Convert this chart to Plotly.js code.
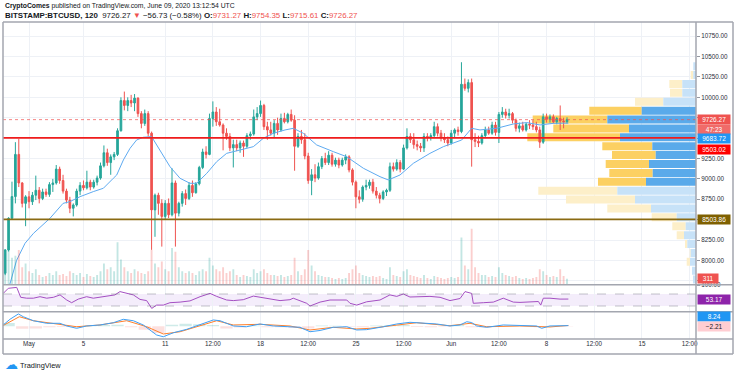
<!DOCTYPE html>
<html><head><meta charset="utf-8">
<script src="https://cdn.plot.ly/plotly-3.0.1.min.js"></script>
<style>html,body{margin:0;padding:0;background:#fff}#chart{width:736px;height:375px}</style>
</head><body><div id="chart"></div>
<script>
// ---------- DATA ----------
// 6h candles, days counted from 2020-05-01 00:00 UTC
const candleStartDay = -1.75, candleStepDay = 0.25;
const firstOpen = 7843;
const closes = [
8129,8517,8783,9300,8950,8700,8780,8720,8800,8860,
8760,8840,8810,8930,8950,9120,8980,8850,8740,8640,
8680,8850,8920,8890,8960,8900,8960,9010,9160,9320,
9200,9270,9300,9590,9960,9900,9960,9930,9990,9800,
9680,9800,9560,8620,8800,8700,8540,8700,8560,8950,
8580,8700,8820,8760,8920,8830,8940,9140,9330,9300,
9740,9820,9700,9660,9560,9520,9380,9420,9380,9440,
9400,9530,9550,9760,9800,9900,9640,9600,9560,9680,
9600,9740,9700,9790,9720,9400,9520,9480,9280,8980,
9050,9010,9150,9250,9200,9290,9180,9230,9170,9230,
9270,9110,8960,8780,8750,8900,8920,8960,8850,8800,
8760,8840,8860,9150,9120,9200,9120,9380,9520,9480,
9420,9400,9380,9520,9510,9530,9640,9560,9500,9480,
9440,9560,9600,9580,10160,10110,10180,9480,9460,9440,
9530,9600,9560,9660,9570,9790,9820,9780,9800,9720,
9620,9650,9600,9670,9660,9640,9600,9450,9760,9730,
9760,9700,9740,9710,9700,9726.27];
const highs = [
8140,8530,8966,9450,9490,8960,8800,8850,8840,9040,
8900,8880,8880,8960,9000,9170,9150,9050,8880,8780,
8700,8880,8960,8980,9100,8990,8990,9040,9200,9410,
9370,9300,9330,9620,10000,10070,10000,10030,10040,10000,
9830,9850,9830,9580,8820,8830,8750,8740,8760,9130,
8980,8720,8850,8870,8960,8980,8960,9160,9370,9400,
9800,9950,9880,9860,9680,9620,9560,9480,9480,9470,
9470,9560,9580,9850,9880,9960,9920,9700,9700,9720,
9750,9800,9810,9810,9850,9780,9560,9600,9560,9320,
9120,9180,9200,9280,9320,9340,9320,9260,9260,9260,
9300,9290,9130,8980,8860,8920,8990,8990,9000,8900,
8830,8860,8880,9200,9200,9240,9230,9420,9620,9560,
9560,9470,9440,9560,9560,9560,9700,9680,9600,9560,
9520,9600,9620,9640,10430,10230,10220,10230,9560,9530,
9560,9640,9640,9700,9700,9820,9880,9860,9860,9820,
9740,9690,9700,9690,9720,9720,9700,9640,9800,9800,
9790,9790,9760,9900,9750,9754.35];
const lows = [
7820,8110,8500,8700,8900,8650,8420,8640,8680,8740,
8700,8740,8780,8780,8840,8930,8940,8820,8700,8580,
8540,8660,8800,8860,8870,8860,8880,8920,8990,9140,
9160,9050,9230,9280,9580,9840,9830,9880,9830,9760,
9620,9650,9520,8130,8290,8560,8170,8500,8520,8540,
8170,8540,8660,8680,8740,8780,8820,8920,9120,9250,
9290,9640,9650,9640,9350,9480,9340,9140,9340,9320,
9270,9380,9480,9530,9720,9760,9600,9480,9530,9500,
9540,9580,9680,9680,9700,9100,9380,9430,9240,8940,
8800,8960,8990,9120,9170,9170,9150,9150,9130,9150,
9180,9080,8920,8640,8700,8720,8860,8880,8820,8760,
8700,8740,8790,8840,9090,9100,9080,9110,9360,9440,
9370,9350,9330,9330,9460,9470,9500,9520,9460,9440,
9400,9420,9500,9530,9560,10080,10060,9150,9390,9390,
9420,9500,9540,9540,9530,9440,9750,9740,9740,9680,
9580,9570,9580,9580,9610,9600,9570,9380,9430,9690,
9690,9680,9670,9600,9620,9680];
const volumes = [
1600,2000,1400,1500,1800,900,1100,700,600,800,
500,400,450,600,500,700,500,550,450,700,
600,500,600,400,550,450,400,500,700,1100,
800,900,700,2200,1300,900,700,600,800,700,
600,550,700,1800,1100,900,1200,800,700,1900,
1700,900,700,600,700,600,500,700,800,700,
1400,1000,800,700,900,600,700,800,500,400,
500,450,400,800,600,700,800,600,500,500,
450,500,400,450,500,1400,700,500,800,1800,
1000,700,500,450,400,400,350,300,350,300,
350,600,800,1000,600,500,450,400,450,400,
450,350,300,900,500,450,400,700,800,500,
450,400,350,500,350,300,450,400,350,300,
350,400,350,400,2450,1000,800,2900,900,600,
500,500,400,450,400,900,600,500,450,400,
450,350,300,350,300,350,400,800,700,500,
400,450,400,800,450,311];

// moving average
const maDay = [-1.42,-0.92,-0.29,0.33,1.54,2.5,3.0,3.75,4.72,5.46,6.19,6.44,6.93,7.42,7.9,8.39,9.0,9.62,10.35,11.09,11.82,12.31,13.05,13.78,14.51,15.49,16.47,17.2,17.94,18.8,19.41,20.14,21.12,22.34,23.32,24.55,25.77,26.38,27.24,28.22,29.07,29.44,30.42,31.77,32.5,33.11,34.34,35.07,35.56,36.54,37.52,38.5,39.6];
const maVal = [7700,7998,8211,8333,8517,8700,8721,8782,8844,8885,9007,9048,9232,9375,9477,9510,9518,9354,9150,9007,8946,8946,9068,9211,9313,9354,9395,9497,9559,9600,9620,9559,9416,9334,9272,9130,9027,8987,9048,9191,9272,9313,9395,9477,9620,9600,9620,9648,9673,9690,9661,9681,9683.72];

// RSI
const rsiDay = [-1.89,-1.52,-0.9,-0.71,-0.61,-0.17,0.32,0.81,1.3,1.79,2.28,2.77,3.13,3.62,4.23,4.72,5.21,5.7,6.31,6.68,7.17,7.66,8.15,8.64,9.01,9.37,9.86,10.35,11.09,11.82,12.56,13.29,13.78,14.51,15.0,15.73,16.47,17.2,17.69,18.43,19.16,19.4,20.39,20.63,21.37,22.1,23.33,23.57,24.06,24.79,25.77,26.5,27.0,27.48,27.97,28.71,29.44,30.18,30.91,31.65,32.01,32.5,32.62,33.36,34.09,34.82,35.56,36.05,36.78,37.4,37.57,37.76,38.25,38.99,39.6];
const rsiVal = [72,89,92,72,59,56,56,61,56,59,67,50,41,53,61,56,59,62,67,78,73,67,52,48,22,33,33,41,43,47,61,72,62,50,48,51,63,57,52,48,51,56,39,30,43,50,50,39,33,44,50,67,62,70,60,61,62,59,48,55,78,72,39,41,43,56,43,42,43,45,33,56,56,53,53.17];

// MACD
const macdDay = [-1.89,-1.4,-0.78,-0.42,0.32,1.3,2.28,2.77,3.5,4.23,5.21,6.19,6.92,7.66,8.39,9.01,9.37,9.86,10.6,11.58,12.56,13.53,14.03,15.0,15.98,16.96,17.94,19.16,19.9,20.63,21.37,22.34,23.33,24.06,24.79,26.02,27.0,27.97,28.95,29.93,30.91,31.65,32.14,32.5,32.87,33.6,34.82,36.05,37.27,37.64,38.25,39.6];
const macdVal = [16,84,148,115,67,36,36,4,-24,4,16,43,84,67,16,-65,-104,-125,-77,-36,16,76,67,4,-5,28,4,-5,-12,-65,-50,-12,-5,-44,-40,-5,28,48,40,28,4,16,55,45,4,-12,16,10,4,-24,4,8.24];
const signalDay = [-1.89,-0.71,0.32,1.54,3.5,5.21,7.17,8.64,9.86,11.09,12.56,13.78,15.0,16.96,19.16,20.63,22.34,24.06,25.04,27.0,28.46,30.91,32.38,33.6,36.05,38.25,39.6];
const signalVal = [10,115,67,36,-5,16,67,-5,-92,-65,4,67,16,24,4,-44,-12,-32,-24,16,43,7,36,-5,4,-8,10.45];
const histStartDay = -1.5, histStepDay = 1;
const histVal = [40,-30,-25,-10,-8,-12,10,15,20,-10,-40,-80,20,30,25,15,-25,-15,10,-10,-10,-20,-25,10,8,-5,-10,10,12,15,-8,-10,-5,20,-10,-15,5,3,-3,-10,6,-2.21];

// volume profile (price bins, up / down volume)
const profileBinLow = [7711,7820,7929,8038,8147,8256,8365,8474,8583,8692,8801,8910,9019,9128,9237,9346,9455,9564,9673,9782,9891,10000,10109,10218,10327];
const profileBinSize = 109;
const profileUp   = [3,4,6,5.3,8.7,12,10.3,19.3,45,61,78.7,50,43.3,47,40.3,43.7,76,67,88.7,54.3,32.7,13.7,13.7,2.7,2.7];
const profileDown = [0,0,3.3,1,2.3,7.3,13.4,25,43.7,69,79,48,43.4,43.3,43.7,50,92.7,75.7,74.6,52.4,28.3,12.3,13,2.6,0];
const valueAreaLow = 8910, valueAreaHigh = 9891;

// levels
const redLevel = 9503.02, brownLevel = 8503.86;
const rsiUpper = 70, rsiLower = 30;

// axis ticks (labels hidden behind the price tags are left blank)
const priceTicks = [7750,8000,8250,8500,8750,9000,9250,9500,9750,10000,10250,10500,10750];
const priceTickText = ['','8000.00','8250.00','','8750.00','9000.00','9250.00','','','10000.00','10250.00','10500.00','10750.00'];
const tickDays = [0,4,10,13.5,17,20.5,24,27.5,31,34.5,38,41.5,45,48.5];
const tickText = ['May','5','11','12:00','18','12:00','25','12:00','Jun','12:00','8','12:00','15','12:00'];
const xStartDay = -1.909, xEndDay = 48.971;

// ---------- BUILD ----------
const DAY = 86400000;
const T0 = Date.UTC(2020, 4, 1);
const msToDate = ms => new Date(ms).toISOString().slice(0, 23).replace('T', ' ');
const toDate = d => msToDate(T0 + d * DAY);

const opens = closes.map((c, i) => i === 0 ? firstOpen : closes[i - 1]);
const times = closes.map((_, i) => toDate(candleStartDay + i * candleStepDay));
const endMs = T0 + xEndDay * DAY;
const unitMs = DAY / 13.62;
const binCenters = profileBinLow.map(v => v + profileBinSize / 2);
const inVA = profileBinLow.map(v => v >= valueAreaLow && v < valueAreaHigh);

const FONT = 'Liberation Sans, Arial, sans-serif';
const UP = '#26a69a', DN = '#ef5350';

const traces = [
  { type: 'bar', orientation: 'h', y: binCenters, width: 98,
    x: profileDown.map(v => v * unitMs),
    base: profileDown.map((v, i) => msToDate(endMs - (v + profileUp[i]) * unitMs)),
    marker: { color: inVA.map(f => f ? '#fcd062' : '#fdefc9'), line: { width: 0 } },
    xaxis: 'x', yaxis: 'y', hoverinfo: 'skip' },
  { type: 'bar', orientation: 'h', y: binCenters, width: 98,
    x: profileUp.map(v => v * unitMs),
    base: profileUp.map(v => msToDate(endMs - v * unitMs)),
    marker: { color: inVA.map(f => f ? '#5aaaea' : '#c7e2f8'), line: { width: 0 } },
    xaxis: 'x', yaxis: 'y', hoverinfo: 'skip' },
  { type: 'candlestick', x: times, open: opens, high: highs, low: lows, close: closes,
    increasing: { line: { color: UP, width: 1 }, fillcolor: UP },
    decreasing: { line: { color: DN, width: 1 }, fillcolor: DN },
    whiskerwidth: 0, xaxis: 'x', yaxis: 'y', hoverinfo: 'skip' },
  { type: 'scatter', mode: 'lines', x: maDay.map(toDate), y: maVal,
    line: { color: '#5eaaf0', width: 1 }, xaxis: 'x', yaxis: 'y', hoverinfo: 'skip' },
  { type: 'bar', x: times, y: volumes, width: candleStepDay * DAY * 0.55,
    marker: { color: closes.map((c, i) => c >= opens[i] ? 'rgba(38,166,154,0.28)' : 'rgba(239,83,80,0.28)'), line: { width: 0 } },
    xaxis: 'x', yaxis: 'y4', hoverinfo: 'skip' },
  { type: 'scatter', mode: 'lines', x: rsiDay.map(toDate), y: rsiVal,
    line: { color: '#a44fc2', width: 1 }, xaxis: 'x', yaxis: 'y2', hoverinfo: 'skip' },
  { type: 'bar', x: histVal.map((_, i) => toDate(histStartDay + i * histStepDay)), y: histVal,
    width: histStepDay * DAY * 0.9,
    marker: { color: histVal.map(v => v >= 0 ? 'rgba(38,166,154,0.22)' : 'rgba(239,83,80,0.18)'), line: { width: 0 } },
    xaxis: 'x', yaxis: 'y3', hoverinfo: 'skip' },
  { type: 'scatter', mode: 'lines', x: signalDay.map(toDate), y: signalVal,
    line: { color: '#ff7f2a', width: 1 }, xaxis: 'x', yaxis: 'y3', hoverinfo: 'skip' },
  { type: 'scatter', mode: 'lines', x: macdDay.map(toDate), y: macdVal,
    line: { color: '#3fa0f5', width: 1 }, xaxis: 'x', yaxis: 'y3', hoverinfo: 'skip' }
];

// paper helpers (plot area 3..696 x, 22..339 y)
const xp = px => (px - 3) / 693;
const yp = py => (339 - py) / 317;
const FRAME = '#a3a6af';
const hline = (y, x0, x1) => ({ type: 'line', xref: 'paper', yref: 'paper', x0: x0, x1: x1, y0: y, y1: y, line: { color: FRAME, width: 1.5 } });
const vline = (x, y0, y1) => ({ type: 'line', xref: 'paper', yref: 'paper', x0: x, x1: x, y0: y0, y1: y1, line: { color: FRAME, width: 1.5 } });

const shapes = [
  { type: 'rect', xref: 'paper', yref: 'y2', x0: 0, x1: 1, y0: rsiLower, y1: rsiUpper, fillcolor: 'rgba(156,90,220,0.11)', line: { width: 0 }, layer: 'below' },
  { type: 'line', xref: 'paper', yref: 'y2', x0: 0, x1: 1, y0: rsiUpper, y1: rsiUpper, line: { color: 'rgba(120,123,134,0.45)', width: 1, dash: 'dash' } },
  { type: 'line', xref: 'paper', yref: 'y2', x0: 0, x1: 1, y0: rsiLower, y1: rsiLower, line: { color: 'rgba(120,123,134,0.45)', width: 1, dash: 'dash' } },
  { type: 'line', xref: 'paper', yref: 'y', x0: 0, x1: 1, y0: closes[closes.length - 1], y1: closes[closes.length - 1], line: { color: 'rgba(239,83,80,0.7)', width: 1, dash: 'dot' } },
  { type: 'line', xref: 'paper', yref: 'y', x0: 0, x1: 1, y0: redLevel, y1: redLevel, line: { color: '#f01c1c', width: 1.6 } },
  { type: 'line', xref: 'paper', yref: 'y', x0: 0, x1: 1, y0: brownLevel, y1: brownLevel, line: { color: '#8a6a12', width: 1.6 } },
  hline(1, 0, xp(733)), hline(yp(284.7), 0, xp(733)), hline(yp(311.7), 0, xp(733)),
  hline(0, 0, xp(733)), hline(yp(354), 0, xp(733)),
  vline(0, yp(354), 1), vline(1, yp(354), 1), vline(xp(733), yp(354), 1)
];

const lab = (text, y, yref, bg, yshift, color, w) => ({
  text: text, x: 1, xref: 'paper', xanchor: 'left', y: y, yref: yref, yanchor: 'middle',
  yshift: yshift || 0, xshift: 1, showarrow: false, bgcolor: bg, borderpad: 1.2,
  width: w || 30, align: 'center',
  font: { family: FONT, size: 6.5, color: color || '#ffffff' }
});

const red = s => '<span style="color:#ef5350">' + s + '</span>';
const annotations = [
  { text: '<b>CryptoComes</b> published on TradingView.com, June 09, 2020 13:12:54 UTC',
    x: 0, xref: 'paper', xanchor: 'left', y: yp(6), yref: 'paper', yanchor: 'middle', showarrow: false,
    font: { family: FONT, size: 6.8, color: '#131722' } },
  { text: '<b>BITSTAMP:BTCUSD, 120</b>  9726.27 ' + red('▼') + ' −56.73 (−0.58%) <b>O:</b>' + red('9731.27') +
          ' <b>H:</b>' + red('9754.35') + ' <b>L:</b>' + red('9715.61') + ' <b>C:</b>' + red('9726.27'),
    x: 0, xref: 'paper', xanchor: 'left', y: yp(15.5), yref: 'paper', yanchor: 'middle', showarrow: false,
    font: { family: FONT, size: 7.9, color: '#131722' } },
  { text: '☁', x: 0, xref: 'paper', xanchor: 'left', y: yp(364.5), yref: 'paper', yanchor: 'middle', showarrow: false,
    font: { family: 'DejaVu Sans', size: 13, color: '#2196f3' } },
  { text: 'TradingView', x: xp(18), xref: 'paper', xanchor: 'left', y: yp(365), yref: 'paper', yanchor: 'middle', showarrow: false,
    font: { family: FONT, size: 7.4, color: '#131722' } },
  lab('9726.27', closes[closes.length - 1], 'y', '#ef5350', 0),
  lab('47:23', closes[closes.length - 1], 'y', '#f06b69', -10),
  lab('9683.72', maVal[maVal.length - 1], 'y', '#2196f3', -15.5),
  lab('9503.02', redLevel, 'y', '#ff0000', -11.5),
  lab('8503.86', brownLevel, 'y', '#7f6000', 0),
  lab('311', volumes[volumes.length - 1], 'y4', '#ef5350', 0.5, null, 18),
  lab('53.17', rsiVal[rsiVal.length - 1], 'y2', '#8e24aa', 0),
  lab('8.24', macdVal[macdVal.length - 1], 'y3', '#2196f3', 9),
  lab('−2.21', histVal[histVal.length - 1], 'y3', '#ffcdd2', -0.5, '#131722')
];

const tickFont = { family: FONT, size: 6.3, color: '#2a2e39' };
const layout = {
  width: 736, height: 375,
  margin: { l: 3, r: 40, t: 22, b: 36, pad: 0 },
  paper_bgcolor: '#ffffff', plot_bgcolor: '#ffffff',
  showlegend: false, hovermode: false, barmode: 'overlay',
  xaxis: {
    type: 'date', range: [toDate(xStartDay), toDate(xEndDay)], anchor: 'y3',
    tickvals: tickDays.map(toDate), ticktext: tickText, tickfont: tickFont,
    ticks: '', showgrid: true, gridcolor: '#eef1f6', gridwidth: 1,
    showline: false, zeroline: false, rangeslider: { visible: false }, fixedrange: true
  },
  yaxis: {
    domain: [yp(284.7), 1], anchor: 'x', side: 'right', range: [7703, 10923],
    tickvals: priceTicks, ticktext: priceTickText, tickfont: tickFont,
    ticks: 'outside', ticklen: 3, tickcolor: '#9598a1', showgrid: true, gridcolor: '#eef1f6',
    zeroline: false, showline: false, fixedrange: true
  },
  yaxis2: {
    domain: [yp(311.7), yp(284.7)], anchor: 'x', side: 'right', range: [11, 101],
    tickvals: [100], ticktext: ['100.00'], tickfont: tickFont, ticks: 'outside', ticklen: 3, tickcolor: '#9598a1',
    ticklabeloverflow: 'allow', showgrid: false, zeroline: false, showline: false, fixedrange: true
  },
  yaxis3: {
    domain: [0, yp(311.7)], anchor: 'x', side: 'right', range: [-152, 175],
    showticklabels: false, ticks: '', showgrid: false, zeroline: false, showline: false, fixedrange: true
  },
  yaxis4: {
    overlaying: 'y', anchor: 'x', side: 'right', range: [0, 13600], visible: false, fixedrange: true
  },
  shapes: shapes,
  annotations: annotations
};

Plotly.newPlot('chart', traces, layout, { displayModeBar: false, staticPlot: true });
</script></body></html>
